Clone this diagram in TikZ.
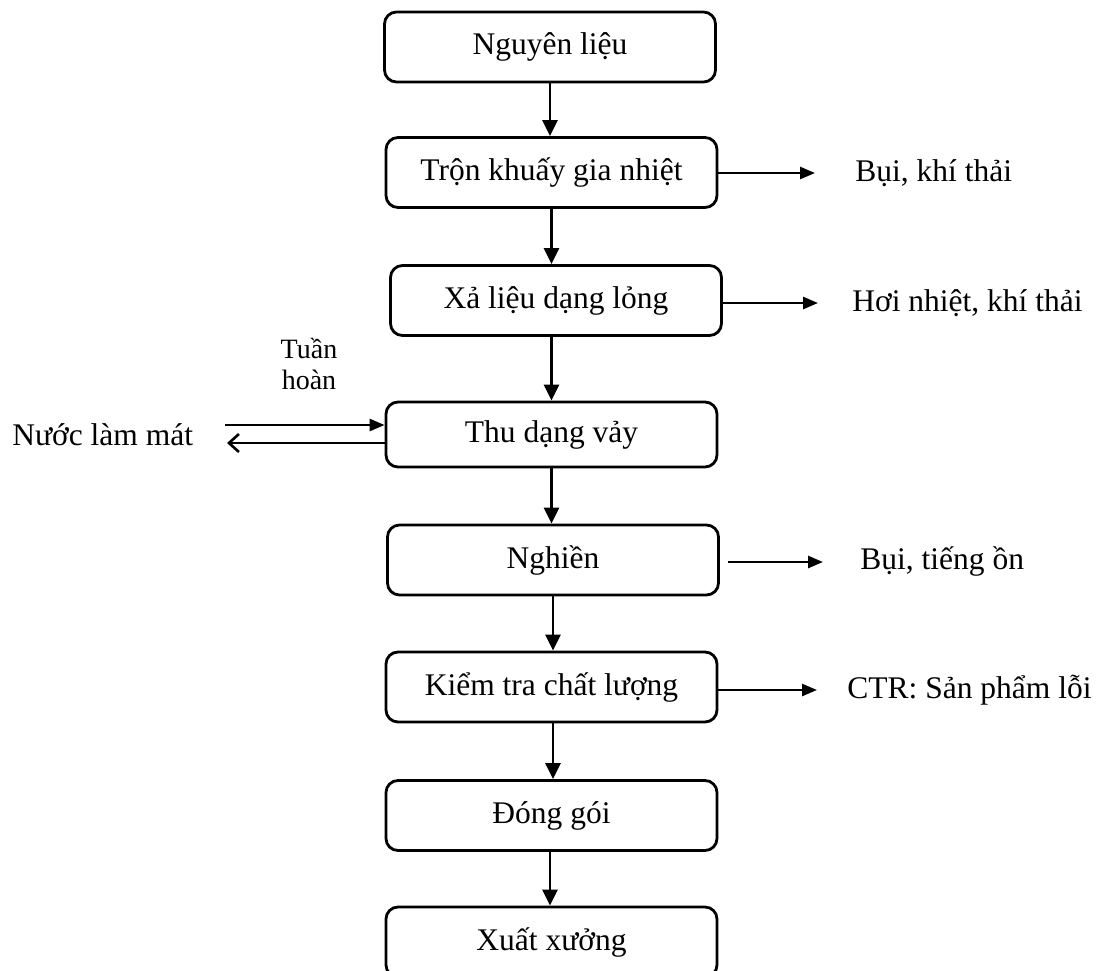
\documentclass[tikz,border=0pt]{standalone}
\usepackage{fontspec}
\setmainfont{Liberation Serif}
\usetikzlibrary{arrows.meta}

\begin{document}
\begin{tikzpicture}[x=0.5pt,y=0.5pt,yscale=-1,xscale=1,
    every node/.style={font=\fontsize{15.75}{19}\selectfont},
    stage/.style={draw, line width=1.4pt, rounded corners=6pt, minimum width=165.5pt, minimum height=35pt, inner sep=0pt},
    waste/.style={anchor=west, inner sep=0pt},
    flow/.style={line width=1.3pt, -{Triangle[length=8pt,width=7.5pt]}},
    sideflow/.style={line width=1.3pt, -{Triangle[length=7.5pt,width=6pt]}},
    backflow/.style={line width=1.3pt, -{Straight Barb[length=5pt,width=9pt]}}]
    \useasboundingbox (0,0) rectangle (1100,971);
    %Rounded Rect
    \node [stage] (nl) at (550,47) {Nguyên liệu};
    \node [stage] (tk) at (551.5,172.5) {Trộn khuấy gia nhiệt};
    \node [stage] (xl) at (556,300.5) {Xả liệu dạng lỏng};
    \node [stage, minimum height=32.5pt] (tv) at (551.5,434.5) {Thu dạng vảy};
    \node [stage] (ng) at (553,560) {Nghiền};
    \node [stage] (kt) at (551.5,687) {Kiểm tra chất lượng};
    \node [stage] (dg) at (551.5,815.5) {Đóng gói};
    \node [stage] (xx) at (551.5,942) {Xuất xưởng};

    %Straight Lines
    \draw [flow] (nl.south) -- (nl.south |- tk.north);
    \draw [flow] (tk.south) -- (tk.south |- xl.north);
    \draw [flow] (tk.south |- xl.south) -- (tk.south |- tv.north);
    \draw [flow] (tv.south) -- (tv.south |- ng.north);
    \draw [flow] (ng.south) -- (ng.south |- kt.north);
    \draw [flow] (ng.south |- kt.south) -- (ng.south |- dg.north);
    \draw [flow] (nl.south |- dg.south) -- (nl.south |- xx.north);

    % Text Node
    \node [waste] (o1) at (855,173) {Bụi, khí thải};
    \node [waste] (o2) at (852,303) {Hơi nhiệt, khí thải};
    \node [waste] (o3) at (860,561) {Bụi, tiếng ồn};
    \node [waste] (o4) at (847,690) {CTR: Sản phẩm lỗi};
    \node [anchor=west, inner sep=0pt] (nm) at (12,435) {Nước làm mát};
    \node [align=center, inner sep=0pt, font=\fontsize{14}{15.5}\selectfont] (th) at (309,364) {Tuần\\hoàn};

    %Straight Lines
    \coordinate (e1) at (815,173);
    \coordinate (e2) at (818,303);
    \coordinate (e3) at (823,562);
    \coordinate (e4) at (817,690);
    \draw [sideflow] (tk.east |- e1) -- (e1);
    \draw [sideflow] (xl.east |- e2) -- (e2);
    \draw [sideflow, shorten <=4pt] (ng.east |- e3) -- (e3);
    \draw [sideflow] (kt.east |- e4) -- (e4);
    \coordinate (w1) at (225,425);
    \coordinate (w2) at (227,443);
    \draw [sideflow] (w1) -- (w1 -| tv.west);
    \draw [backflow] (w2 -| tv.west) -- (w2);
\end{tikzpicture}
\end{document}
